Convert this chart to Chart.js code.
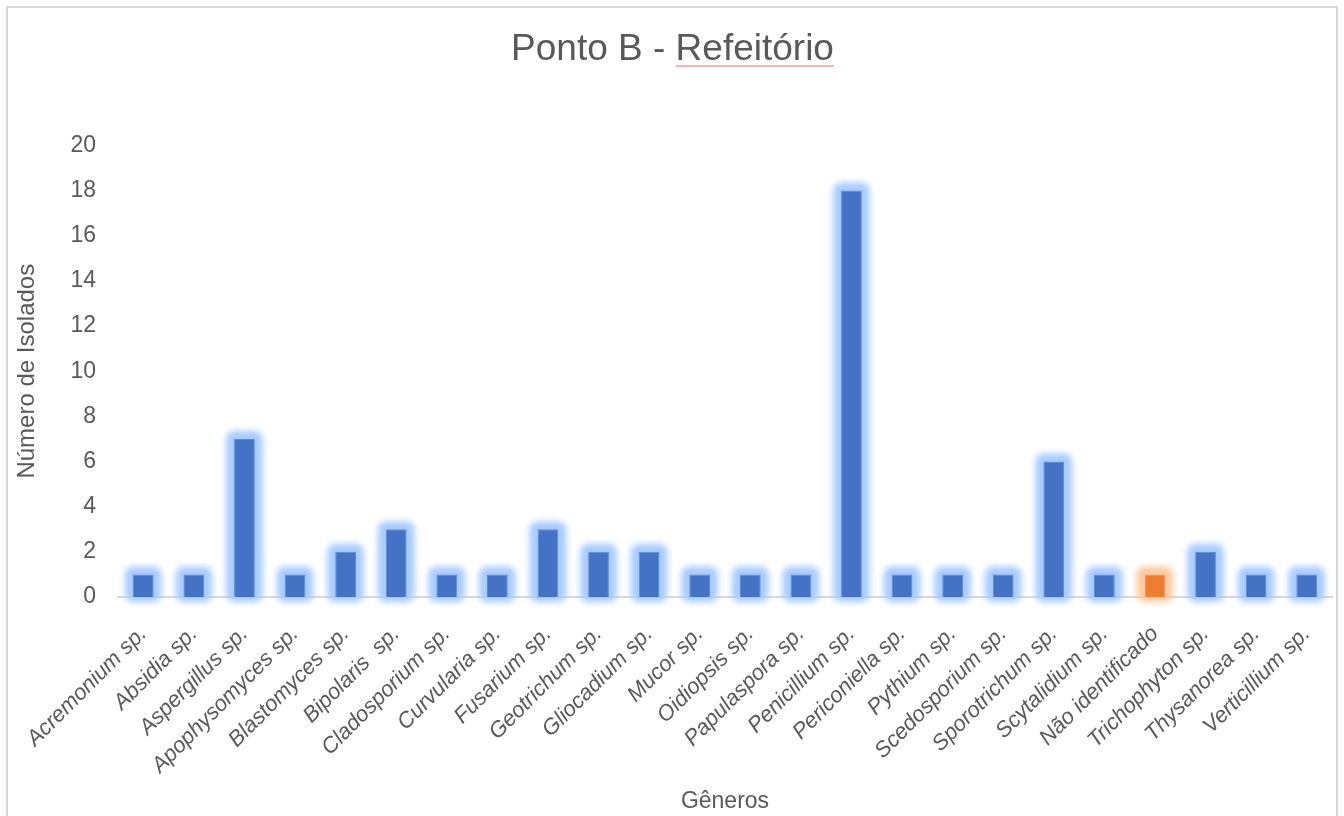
<!DOCTYPE html>
<html>
<head>
<meta charset="utf-8">
<script src="https://cdn.jsdelivr.net/npm/chart.js@4"></script>
<style>
  html, body { margin: 0; padding: 0; background: #fff; }
  #wrap { width: 1344px; height: 816px; }
</style>
</head>
<body>
<div id="wrap"><canvas id="chart" width="1344" height="816"></canvas></div>
<script>
// data
const generos = [
    'Acremonium sp.', 'Absidia sp.', 'Aspergillus sp.', 'Apophysomyces sp.', 'Blastomyces sp.',
    'Bipolaris  sp.', 'Cladosporium sp.', 'Curvularia sp.', 'Fusarium sp.', 'Geotrichum sp.',
    'Gliocadium sp.', 'Mucor sp.', 'Oidiopsis sp.', 'Papulaspora sp.', 'Penicillium sp.',
    'Periconiella sp.', 'Pythium sp.', 'Scedosporium sp.', 'Sporotrichum sp.', 'Scytalidium sp.',
    'Não identificado', 'Trichophyton sp.', 'Thysanorea sp.', 'Verticillium sp.'
];
const isolados = [1, 1, 7, 1, 2, 3, 1, 1, 3, 2, 2, 1, 1, 1, 18, 1, 1, 1, 6, 1, 1, 2, 1, 1];
const yTicks = [0, 2, 4, 6, 8, 10, 12, 14, 16, 18, 20];

const BLUE = '#4472C4', ORANGE = '#ED7D31';
const isOrange = g => g === 'Não identificado';
const barColors = generos.map(g => isOrange(g) ? ORANGE : BLUE);
const edgeColors = generos.map(g => isOrange(g) ? '#f19a5e' : '#5f89d3');
const glowColors = generos.map(g => isOrange(g) ? 'rgba(249,196,150,0.9)' : 'rgba(158,197,255,0.9)');
const TEXT = '#595959';
const FONT = "'Liberation Sans', Arial, sans-serif";
const TITLE = 'Ponto B - Refeitório';
const TITLE_SIZE = 37;

// soft halo behind each bar (like the Office "glow" effect)
const glowPlugin = {
    id: 'glow',
    beforeDatasetsDraw(chart) {
        const ctx = chart.ctx;
        chart.getDatasetMeta(0).data.forEach((bar, i) => {
            const w = bar.width, pad = 8;
            const left = bar.x - w / 2 - pad, top = bar.y - pad;
            ctx.save();
            ctx.filter = 'blur(3px)';
            ctx.fillStyle = glowColors[i];
            ctx.beginPath();
            ctx.roundRect(left, top, w + pad * 2, bar.base - bar.y + pad * 2 - 3, 8);
            ctx.fill();
            ctx.restore();
        });
    }
};

// outer frame + spell-check underline under the title word
const framePlugin = {
    id: 'frame',
    afterDraw(chart) {
        const ctx = chart.ctx;
        ctx.save();
        ctx.strokeStyle = '#d9d9d9';
        ctx.lineWidth = 2;
        ctx.strokeRect(7, 7, 1330, 830);

        const t = chart.titleBlock;
        ctx.font = `${TITLE_SIZE}px ${FONT}`;
        const fw = ctx.measureText(TITLE).width;
        const pre = ctx.measureText('Ponto B - ').width;
        const ww = ctx.measureText('Refeitório').width;
        const x0 = (t.left + t.right) / 2 - fw / 2 + pre;
        const yy = t.top + t.options.padding.top + TITLE_SIZE + 1;
        ctx.strokeStyle = '#f59a9a';
        ctx.lineWidth = 1.5;
        ctx.beginPath();
        ctx.moveTo(x0, yy);
        ctx.lineTo(x0 + ww, yy);
        ctx.stroke();
        ctx.restore();
    }
};

new Chart(document.getElementById('chart'), {
    type: 'bar',
    data: {
        labels: generos,
        datasets: [{
            data: isolados,
            backgroundColor: barColors,
            borderColor: edgeColors,
            borderWidth: 1,
            barPercentage: 0.41,
            categoryPercentage: 1
        }]
    },
    options: {
        responsive: false,
        animation: false,
        layout: { padding: { left: 13, right: 12, top: 10, bottom: 1 } },
        plugins: {
            legend: { display: false },
            tooltip: { enabled: false },
            title: {
                display: true,
                text: TITLE,
                color: TEXT,
                font: { family: FONT, size: TITLE_SIZE, weight: 'normal' },
                padding: { top: 18, bottom: 73 }
            }
        },
        scales: {
            x: {
                grid: { display: false },
                border: { color: '#d9d9d9', width: 2 },
                ticks: {
                    color: TEXT,
                    font: { family: FONT, size: 22, style: 'italic' },
                    minRotation: 45,
                    maxRotation: 45,
                    autoSkip: false,
                    padding: 16
                },
                title: {
                    display: true,
                    text: 'Gêneros',
                    color: TEXT,
                    font: { family: FONT, size: 23 },
                    padding: { top: 7, bottom: 0 }
                },
                afterFit(scale) { scale.height = 218; }
            },
            y: {
                min: 0,
                max: 20,
                afterBuildTicks(scale) { scale.ticks = yTicks.map(v => ({ value: v })); },
                grid: { display: false },
                border: { display: false },
                ticks: {
                    color: TEXT,
                    font: { family: FONT, size: 23 },
                    padding: 14
                },
                title: {
                    display: true,
                    text: 'Número de Isolados',
                    color: TEXT,
                    font: { family: FONT, size: 24 },
                    padding: { top: 0, bottom: 10 }
                },
                afterFit(scale) { scale.width = 105; }
            }
        }
    },
    plugins: [glowPlugin, framePlugin]
});
</script>
</body>
</html>
